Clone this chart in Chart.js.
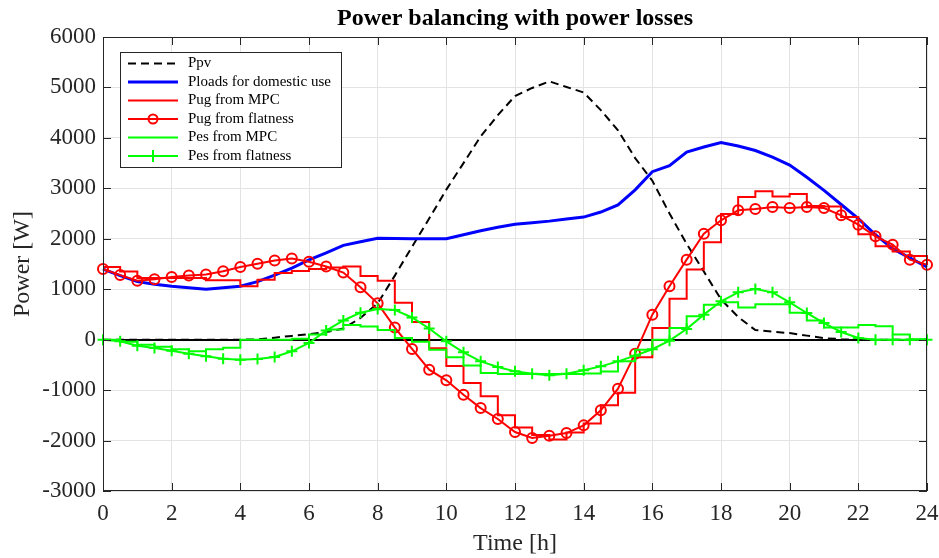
<!DOCTYPE html>
<html><head><meta charset="utf-8">
<script src="https://cdn.jsdelivr.net/npm/chart.js@4.4.0/dist/chart.umd.min.js"></script>
<style>html,body{margin:0;padding:0;background:#fff;overflow:hidden}</style>
</head><body>
<canvas id="c" width="939" height="558"></canvas>
<script>
const hours = [0,0.5,1,1.5,2,2.5,3,3.5,4,4.5,5,5.5,6,6.5,7,7.5,8,8.5,9,9.5,10,10.5,11,11.5,12,12.5,13,13.5,14,14.5,15,15.5,16,16.5,17,17.5,18,18.5,19,19.5,20,20.5,21,21.5,22,22.5,23,23.5,24];
const ppv = [0,0,0,0,0,0,0,0,0,5,40,75,110,150,220,430,720,1270,1840,2400,2975,3500,4030,4450,4830,4990,5120,5010,4900,4550,4150,3600,3150,2500,1900,1350,800,450,190,160,130,80,30,10,0,0,0,0,0];
const ploads = [1400,1270,1150,1100,1060,1030,1000,1030,1060,1150,1280,1420,1580,1720,1870,1940,2010,2005,2000,2000,2000,2080,2160,2230,2290,2320,2350,2390,2430,2530,2670,2970,3330,3450,3720,3820,3910,3840,3750,3620,3460,3220,2960,2680,2400,2080,1800,1620,1440];
const pugMPC = [1440,1350,1220,1220,1220,1220,1180,1180,1060,1190,1320,1360,1400,1430,1450,1260,1170,730,350,-170,-520,-860,-1120,-1500,-1740,-1890,-1980,-1840,-1660,-1300,-1050,-350,232,810,1390,1930,2490,2830,2940,2840,2890,2650,2640,2430,2090,1850,1750,1660,1480];
const pugFlat = [1400,1280,1170,1200,1240,1270,1290,1355,1440,1505,1570,1610,1545,1450,1330,1040,720,240,-185,-595,-806,-1091,-1356,-1573,-1831,-1950,-1904,-1851,-1699,-1401,-972,-278,496,1060,1586,2102,2366,2564,2592,2631,2611,2631,2611,2465,2280,2049,1884,1586,1487];
const pesMPC = [0,-40,-100,-140,-190,-230,-190,-160,0,0,0,20,100,200,290,260,190,33,-40,-200,-350,-510,-660,-680,-680,-680,-680,-680,-670,-630,-430,-200,0,232,463,690,740,640,700,700,535,380,240,240,290,265,100,10,0];
const pesFlat = [0,-33,-119,-165,-218,-278,-330,-377,-397,-383,-344,-231,-65,180,380,535,608,590,440,222,-33,-251,-430,-542,-628,-674,-707,-674,-608,-529,-430,-317,-190,-20,212,496,760,938,1005,938,740,529,330,152,33,0,0,0,0];
const seriesNames = ['Ppv','Ploads for domestic use','Pug from MPC','Pug from flatness','Pes from MPC','Pes from flatness'];
const titleText = 'Power balancing with power losses';
const xTitle = 'Time [h]';
const yTitle = 'Power [W]';

const pts = arr => arr.map((v,i)=>({x:hours[i], y:v}));
const FONT = "'Liberation Serif','Times New Roman',serif";
const AX = '#262626';

const datasets = [
  {label:seriesNames[0], data:pts(ppv), borderColor:'#000', borderWidth:2, borderDash:[8,5], pointRadius:0, order:6},
  {label:seriesNames[1], data:pts(ploads), borderColor:'#0000ff', borderWidth:3, pointRadius:0, order:5},
  {label:seriesNames[2], data:pts(pugMPC), borderColor:'#ff0000', borderWidth:2, pointRadius:0, stepped:true, order:4},
  {label:seriesNames[3], data:pts(pugFlat), borderColor:'#ff0000', borderWidth:2, pointRadius:5, pointStyle:'circle', pointBorderColor:'#ff0000', pointBackgroundColor:'rgba(0,0,0,0)', pointBorderWidth:2, order:3},
  {label:seriesNames[4], data:pts(pesMPC), borderColor:'#00ff00', borderWidth:2, pointRadius:0, stepped:true, order:2},
  {label:seriesNames[5], data:pts(pesFlat), borderColor:'#00ff00', borderWidth:2, pointRadius:5.5, pointStyle:'cross', pointBorderColor:'#00ff00', pointBorderWidth:2, order:1}
];
datasets.forEach(d=>{d.clip=false; d.tension=0; d.fill=false; d.pointHoverRadius=d.pointRadius;});

const frame = {
  id:'frame',
  afterDatasetsDraw(chart){
    const ctx = chart.ctx, a = chart.chartArea;
    const xs = chart.scales.x, ys = chart.scales.y;
    ctx.save();
    // title
    ctx.fillStyle='#000'; ctx.font = "bold 24px "+FONT; ctx.textAlign='center'; ctx.textBaseline='middle';
    ctx.fillText(titleText, (a.left+a.right)/2, 19);
    ctx.strokeStyle = AX; ctx.lineWidth = 1;
    ctx.strokeRect(a.left+0.5, a.top+0.5, a.right-a.left-1, a.bottom-a.top-1);
    const tl = 8;
    ctx.beginPath();
    xs.ticks.forEach(t=>{const p=Math.round(xs.getPixelForValue(t.value))+0.5;
      ctx.moveTo(p,a.bottom); ctx.lineTo(p,a.bottom-tl); ctx.moveTo(p,a.top); ctx.lineTo(p,a.top+tl);});
    ys.ticks.forEach(t=>{const p=Math.round(ys.getPixelForValue(t.value))+0.5;
      ctx.moveTo(a.left,p); ctx.lineTo(a.left+tl,p); ctx.moveTo(a.right,p); ctx.lineTo(a.right-tl,p);});
    ctx.stroke();
    // legend
    const bx=120, by=52, bw=221, bh=115;
    ctx.fillStyle='#fff'; ctx.fillRect(bx,by,bw,bh);
    ctx.strokeStyle=AX; ctx.lineWidth=1; ctx.strokeRect(bx+0.5,by+0.5,bw,bh);
    const rows=[63.5,82,100.5,119,137.5,156];
    ctx.font = "15px "+FONT; ctx.textBaseline='middle'; ctx.textAlign='left';
    datasets.forEach((d,i)=>{
      const y=rows[i];
      ctx.save();
      ctx.strokeStyle=d.borderColor; ctx.lineWidth=d.borderWidth;
      ctx.setLineDash(d.borderDash||[]);
      ctx.beginPath(); ctx.moveTo(128,y); ctx.lineTo(178,y); ctx.stroke();
      ctx.setLineDash([]);
      if(d.pointStyle==='circle'){ctx.lineWidth=2; ctx.beginPath(); ctx.arc(153,y,4.5,0,Math.PI*2); ctx.stroke();}
      if(d.pointStyle==='cross'){ctx.lineWidth=2; ctx.beginPath(); ctx.moveTo(153,y-6); ctx.lineTo(153,y+6); ctx.moveTo(147,y); ctx.lineTo(159,y); ctx.stroke();}
      ctx.restore();
      ctx.fillStyle='#000'; ctx.fillText(d.label,188,y);
    });
    ctx.restore();
  }
};

new Chart(document.getElementById('c'), {
  type:'line',
  data:{datasets},
  options:{
    responsive:false, animation:false, devicePixelRatio:1,
    layout:{padding:{left:0,right:12,top:37,bottom:0}},
    plugins:{
      legend:{display:false}, tooltip:{enabled:false}, title:{display:false}
    },
    scales:{
      x:{type:'linear', min:0, max:24,
        ticks:{stepSize:2, color:AX, font:{family:FONT,size:23}, padding:9, maxRotation:0},
        grid:{color:'#e3e3e3', drawTicks:false, lineWidth:1},
        border:{display:false},
        title:{display:true, text:xTitle, color:AX, font:{family:FONT,size:24,lineHeight:1.2}, padding:{top:0,bottom:0}},
        afterFit(s){s.height=67; s.paddingRight=0; s.paddingLeft=0;}
      },
      y:{type:'linear', min:-3000, max:6000,
        ticks:{stepSize:1000, color:AX, font:{family:FONT,size:23}, padding:7, callback:v=>String(v)},
        grid:{color:c=>c.tick&&c.tick.value===0?'#000':'#e3e3e3', lineWidth:c=>c.tick&&c.tick.value===0?2:1, drawTicks:false},
        border:{display:false},
        title:{display:true, text:yTitle, color:AX, font:{family:FONT,size:24,lineHeight:1.2}, padding:{top:8,bottom:0}},
        afterFit(s){s.width=103; s.paddingTop=0; s.paddingBottom=0;}
      }
    }
  },
  plugins:[frame]
});
</script>
</body></html>
